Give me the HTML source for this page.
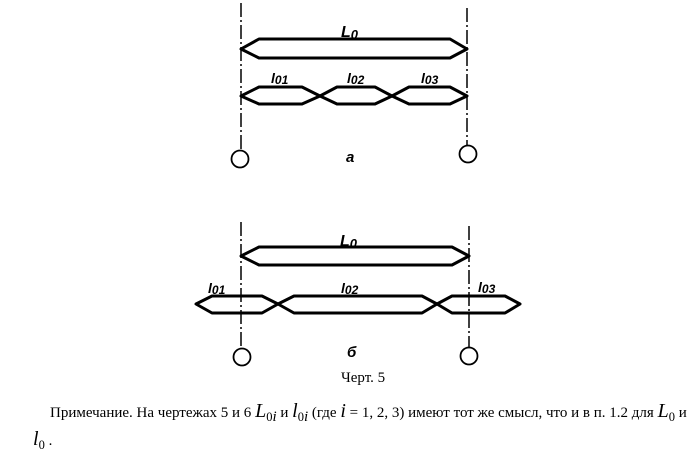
<!DOCTYPE html>
<html><head><meta charset="utf-8"><style>
body{margin:0;width:693px;height:458px;background:#fff;overflow:hidden;position:relative;font-family:"Liberation Serif",serif;}
.t{position:absolute;font-size:15px;white-space:nowrap;color:#000}
i{font-size:20px;}
</style></head><body>
<svg width="693" height="458" style="position:absolute;left:0;top:0" fill="none" stroke="#000">
<g stroke-width="1.5" stroke-dasharray="14,3,2,3">
<line x1="241" y1="3" x2="241" y2="150"/>
<line x1="467" y1="8" x2="467" y2="146"/>
<line x1="241" y1="222" x2="241" y2="348"/>
<line x1="469" y1="226" x2="469" y2="347"/>
</g>
<g stroke-width="1.8">
<circle cx="240" cy="159" r="8.5"/><circle cx="468" cy="154" r="8.5"/>
<circle cx="242" cy="357" r="8.5"/><circle cx="469" cy="356" r="8.5"/>
</g>
<g stroke-width="3" stroke-linejoin="round">
<polygon points="241,49 259,39 450,39 467,49 450,58 259,58"/>
<polygon points="241,96 259,87 302,87 320,96 302,104 259,104"/>
<polygon points="320,96 337,87 375,87 392,96 375,104 337,104"/>
<polygon points="392,96 409,87 450,87 467,96 450,104 409,104"/>
<polygon points="241,256 259,247 452,247 469,256 452,265 259,265"/>
<polygon points="196,304 212,296 262,296 278,304 262,313 212,313"/>
<polygon points="278,304 294,296 422,296 437,304 422,313 294,313"/>
<polygon points="437,304 452,296 505,296 520,304 505,313 452,313"/>
</g>
<g fill="#000" stroke="none" font-family="Liberation Sans, sans-serif" font-style="italic" font-weight="bold">
<text x="341" y="37" font-size="16">L<tspan font-size="13" dy="2">0</tspan></text>
<text x="271" y="83" font-size="14">l<tspan font-size="12" dy="1">01</tspan></text>
<text x="347" y="83" font-size="14">l<tspan font-size="12" dy="1">02</tspan></text>
<text x="421" y="83" font-size="14">l<tspan font-size="12" dy="1">03</tspan></text>
<text x="346" y="162" font-size="15">a</text>
<text x="340" y="246" font-size="16">L<tspan font-size="13" dy="2">0</tspan></text>
<text x="208" y="293" font-size="14">l<tspan font-size="12" dy="1">01</tspan></text>
<text x="341" y="293" font-size="14">l<tspan font-size="12" dy="1">02</tspan></text>
<text x="478" y="292" font-size="14">l<tspan font-size="12" dy="1">03</tspan></text>
<text x="347" y="357" font-size="15">б</text>
</g>
</svg>
<div class="t" style="left:341px;top:370px">Черт. 5</div>
<div class="t" style="left:50px;top:400px">Примечание. На чертежах 5 и 6 <i>L</i><sub>0<i style="font-size:15px">i</i></sub> и <i>l</i><sub>0<i style="font-size:15px">i</i></sub> (где <i>i</i> = 1, 2, 3) имеют тот же смысл, что и в п. 1.2 для <i>L</i><sub>0</sub> и</div>
<div class="t" style="left:33px;top:428px"><i>l</i><sub>0</sub> .</div>
</body></html>
